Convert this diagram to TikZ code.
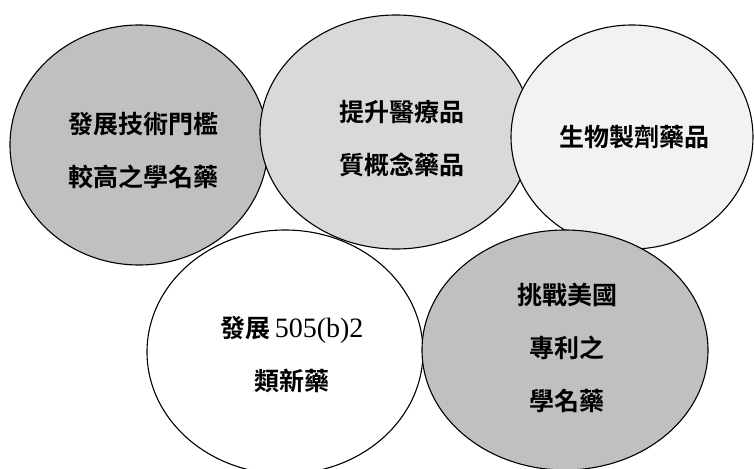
\documentclass[tikz,border=0pt]{standalone}
\usepackage{fontspec}
\setmainfont{Liberation Serif}
\newfontfamily\cjk{Noto Sans CJK TC}[BoldFont={* Bold}]
\begin{document}
\begin{tikzpicture}[x=1pt,y=-1pt,
  blob/.style={draw=black,line width=1.1pt},
  lbl/.style={align=center,font=\cjk\bfseries\fontsize{25}{53}\selectfont,inner sep=0pt}]
\useasboundingbox (0,0) rectangle (754,468);
\clip (0,0) rectangle (754,468);
\definecolor{g1}{HTML}{C0C0C0}
\definecolor{g2}{HTML}{D9D9D9}
\definecolor{g3}{HTML}{F2F2F2}
\draw[blob,fill=g1] (139,145) ellipse [x radius=129, y radius=120];
\draw[blob,fill=g2] (396,132) ellipse [x radius=136, y radius=117];
\draw[blob,fill=g3] (632,137) ellipse [x radius=121, y radius=112];
\draw[blob,fill=white] (285,352) ellipse [x radius=138, y radius=122];
\draw[blob,fill=g1] (565,350) ellipse [x radius=143, y radius=120];
\node[lbl] (t1) at (143,151) {發展技術門檻\\較高之學名藥};
\node[lbl] (t2) at (402,139) {提升醫療品\\質概念藥品};
\node[lbl] (t3) at (634,137) {生物製劑藥品};
\node[lbl] (t4) at (292,355) {發展\,{\fontspec{Liberation Serif}\mdseries\fontsize{28}{53}\selectfont 505(b)2}\\類新藥};
\node[lbl] (t5) at (567,348) {挑戰美國\\專利之\\學名藥};
\end{tikzpicture}
\end{document}
